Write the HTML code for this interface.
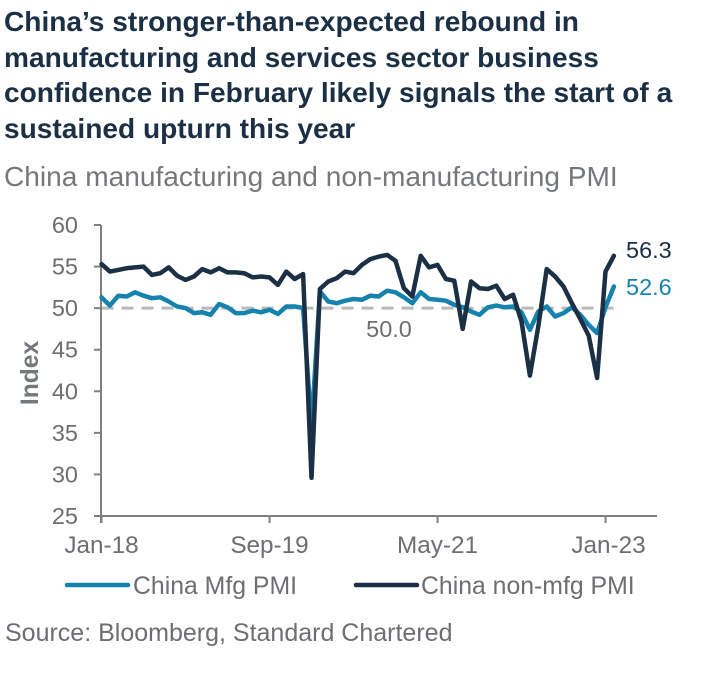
<!DOCTYPE html>
<html>
<head>
<meta charset="utf-8">
<style>
html,body{margin:0;padding:0;background:#fff;width:705px;height:679px;overflow:hidden}
svg{display:block}
text{font-family:"Liberation Sans",Arial,sans-serif}
.title{font-size:28.1px;font-weight:700;fill:#1b2f45}
.sub{font-size:28.1px;fill:#75787b}
.tick{font-size:23.5px;fill:#6d6e71}
.xtick{font-size:24.3px;fill:#6d6e71}
</style>
</head>
<body>
<svg id="chart" width="705" height="679" viewBox="0 0 705 679" xmlns="http://www.w3.org/2000/svg">
<text class="title" x="4" y="31">China’s stronger-than-expected rebound in</text>
<text class="title" x="4" y="67">manufacturing and services sector business</text>
<text class="title" x="4" y="102">confidence in February likely signals the start of a</text>
<text class="title" x="4" y="138">sustained upturn this year</text>
<text class="sub" x="4" y="186">China manufacturing and non-manufacturing PMI</text>
<text x="38" y="373" transform="rotate(-90 38 373)" text-anchor="middle" style="font-size:24.6px;font-weight:700;fill:#75787b">Index</text>
<g id="plot"></g>
<line x1="67" y1="585" x2="128" y2="585" stroke="#1583ad" stroke-width="4.5" stroke-linecap="round"/>
<text x="133" y="594" style="font-size:24.8px;fill:#6d6e71">China Mfg PMI</text>
<line x1="356" y1="585" x2="417" y2="585" stroke="#1b2f45" stroke-width="4.5" stroke-linecap="round"/>
<text x="421" y="594" style="font-size:24.8px;fill:#6d6e71">China non-mfg PMI</text>
<text x="5" y="641" style="font-size:25px;fill:#6d6e71">Source: Bloomberg, Standard Chartered</text>
</svg>
<script>
const yTicks = [25, 30, 35, 40, 45, 50, 55, 60];
const xTickLabels = ["Jan-18", "Sep-19", "May-21", "Jan-23"];
const xTickIndexes = [0, 20, 40, 60];
const referenceLevel = 50;
const mfgValues = [
  51.3,50.3,51.5,51.4,51.9,51.5,51.2,51.3,50.8,50.2,50.0,49.4,
  49.5,49.2,50.5,50.1,49.4,49.4,49.7,49.5,49.8,49.3,50.2,50.2,
  50.0,35.7,52.0,50.8,50.6,50.9,51.1,51.0,51.5,51.4,52.1,51.9,
  51.3,50.6,51.9,51.1,51.0,50.9,50.4,50.1,49.6,49.2,50.1,50.3,
  50.1,50.2,49.5,47.4,49.6,50.2,49.0,49.4,50.1,49.2,48.0,47.0,
  50.1,52.6
];
const nonMfgValues = [
  55.3,54.4,54.6,54.8,54.9,55.0,54.0,54.2,54.9,53.9,53.4,53.8,
  54.7,54.3,54.8,54.3,54.3,54.2,53.7,53.8,53.7,52.8,54.4,53.5,
  54.1,29.6,52.3,53.2,53.6,54.4,54.2,55.2,55.9,56.2,56.4,55.7,
  52.4,51.4,56.3,54.9,55.2,53.5,53.3,47.5,53.2,52.4,52.3,52.7,
  51.1,51.6,48.4,41.9,47.8,54.7,53.8,52.6,50.6,48.7,46.7,41.6,
  54.4,56.3
];

const NS = "http://www.w3.org/2000/svg";
const plot = document.getElementById("plot");
const xAt = i => 101.5 + i * 8.4;
const yAt = v => 516 - (v - 25) * (291 / 35);

function mk(tag, attrs, txt) {
  const el = document.createElementNS(NS, tag);
  for (const k in attrs) el.setAttribute(k, attrs[k]);
  if (txt !== undefined) el.textContent = txt;
  plot.appendChild(el);
  return el;
}

const ref = mk("line", {x1: xAt(0), x2: xAt(61), y1: yAt(referenceLevel), y2: yAt(referenceLevel), stroke: "#b9b9bb", "stroke-width": 3, "stroke-dasharray": "12 8"});


const refLabel = mk("text", {x: 389, y: 337, "text-anchor": "middle", class: "tick"}, referenceLevel.toFixed(1));



const yAxis = mk("line", {x1: 101, x2: 101, y1: yAt(60), y2: 523, stroke: "#7f7f7f", "stroke-width": 2});


const xAxis = mk("line", {x1: 94, x2: 657, y1: yAt(25), y2: yAt(25), stroke: "#7f7f7f", "stroke-width": 2});



yTicks.forEach(v => {
  const t = mk("line", {x1: 94, x2: 101, y1: yAt(v), y2: yAt(v), stroke: "#7f7f7f", "stroke-width": 2});
  
  
  const l = mk("text", {x: 78, y: yAt(v) + 8, "text-anchor": "end", class: "tick"}, v);
  
  
});
xTickIndexes.forEach((idx, n) => {
  const t = mk("line", {x1: xAt(idx), x2: xAt(idx), y1: 516, y2: 523, stroke: "#7f7f7f", "stroke-width": 2});
  
  
  const l = mk("text", {x: n === 3 ? xAt(idx) + 3 : xAt(idx), y: 553, "text-anchor": "middle", class: "xtick"}, xTickLabels[n]);
  
  
});

function pts(vals) { return vals.map((v, i) => xAt(i).toFixed(1) + "," + yAt(v).toFixed(1)).join(" "); }

const mfgLine = mk("polyline", {points: pts(mfgValues), fill: "none", stroke: "#1583ad", "stroke-width": 4.5, "stroke-linejoin": "round", "stroke-linecap": "round"});


const nonLine = mk("polyline", {points: pts(nonMfgValues), fill: "none", stroke: "#1b2f45", "stroke-width": 4.5, "stroke-linejoin": "round", "stroke-linecap": "round"});



const nonEnd = mk("text", {x: 626, y: 258, style: "font-size:23.5px;fill:#1b2f45"}, nonMfgValues[nonMfgValues.length - 1].toFixed(1));


const mfgEnd = mk("text", {x: 626, y: 295, style: "font-size:23.5px;fill:#1583ad"}, mfgValues[mfgValues.length - 1].toFixed(1));


</script>
</body>
</html>
